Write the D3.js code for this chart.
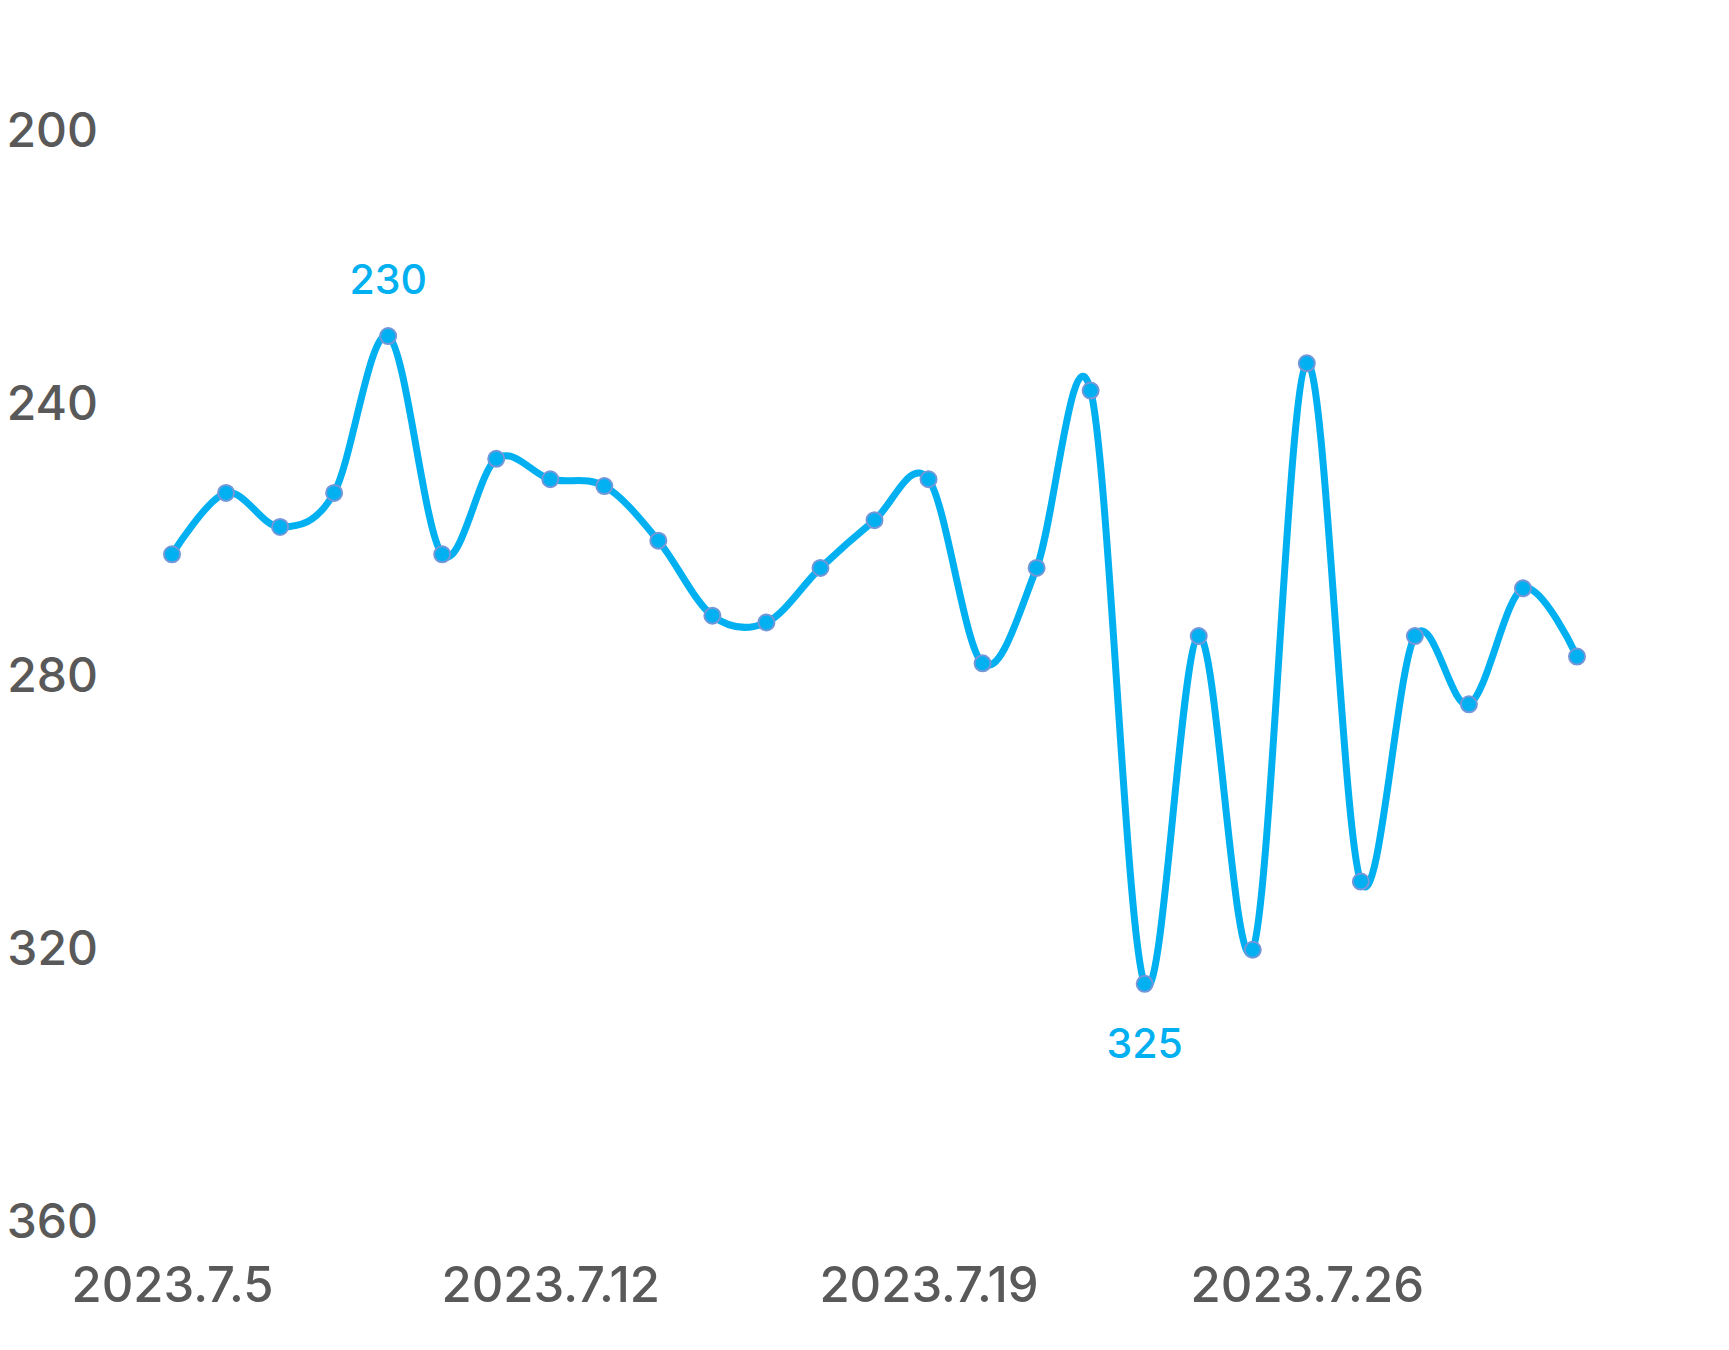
<!DOCTYPE html>
<meta charset="utf-8" />
<html>
<head>
<script src="https://d3js.org/d3.v7.min.js"></script>
<style>
  body { margin: 0; background: #fff; }
  text { font-family: Inter, "Noto Sans", sans-serif; font-weight: 500; }
</style>
</head>
<body>
<script type="text/javascript">
// data
var days = ['2023-07-05','2023-07-06','2023-07-07','2023-07-08','2023-07-09','2023-07-10','2023-07-11',
            '2023-07-12','2023-07-13','2023-07-14','2023-07-15','2023-07-16','2023-07-17','2023-07-18',
            '2023-07-19','2023-07-20','2023-07-21','2023-07-22','2023-07-23','2023-07-24','2023-07-25',
            '2023-07-26','2023-07-27','2023-07-28','2023-07-29','2023-07-30','2023-07-31'];
var values = [262, 253, 258, 253, 230, 262, 248,
              251, 252, 260, 271, 272, 264, 257,
              251, 278, 264, 238, 325, 274, 320,
              234, 310, 274, 284, 267, 277];
var yTicks = [200, 240, 280, 320, 360];
var xTicks = ['2023-07-05', '2023-07-12', '2023-07-19', '2023-07-26'];
var labelled = ['2023-07-09', '2023-07-23'];  // max and min get a label

var width = 1729;
var height = 1350;
var lineColor = '#00b0f0';
var textColor = '#595959';

var parser = d3.timeParse('%Y-%m-%d');
var data = days.map(function(d, i) { return {date: parser(d), value: values[i], key: d}; });

var svg = d3.select('body').append('svg')
    .attr('width', width)
    .attr('height', height);

var x = d3.scaleTime()
    .domain(d3.extent(data, function(d) { return d.date; }))
    .range([172, 1577]);
// axis runs downwards: small values on top
var y = d3.scaleLinear()
    .domain([200, 360])
    .range([131.5, 1222.5]);

// y axis, labels only
var yAxis = svg.append('g')
    .attr('transform', 'translate(98,0)')
    .call(d3.axisLeft(y).tickValues(yTicks).tickSize(0).tickPadding(0));
yAxis.select('.domain').remove();
yAxis.selectAll('text')
    .attr('dy', '0.31em')
    .style('font-size', '48px')
    .style('fill', textColor);

// x axis, labels only
var xAxis = svg.append('g')
    .attr('transform', 'translate(0,1266)')
    .call(d3.axisBottom(x)
      .tickValues(xTicks.map(parser))
      .tickFormat(d3.timeFormat('%Y.%-m.%-d'))
      .tickSize(0).tickPadding(0));
xAxis.select('.domain').remove();
xAxis.selectAll('text')
    .attr('dy', '0.73em')
    .style('font-size', '49px')
    .style('fill', textColor);

var line = d3.line()
    .x(function(d) { return x(d.date); })
    .y(function(d) { return y(d.value); })
    .curve(d3.curveCatmullRom.alpha(0));

svg.append('path')
    .attr('d', line(data))
    .attr('fill', 'none')
    .attr('stroke', lineColor)
    .attr('stroke-width', 7)
    .attr('stroke-linejoin', 'round')
    .attr('stroke-linecap', 'round');

svg.append('g')
    .selectAll('circle')
    .data(data)
    .enter()
    .append('circle')
    .attr('cx', function(d) { return x(d.date); })
    .attr('cy', function(d) { return y(d.value); })
    .attr('r', 8)
    .attr('fill', lineColor)
    .attr('stroke', '#7397d8')
    .attr('stroke-width', 2);

// value labels: above for the top one, below for the bottom one
var maxV = d3.min(values);
svg.append('g')
    .selectAll('text')
    .data(data.filter(function(d) { return labelled.includes(d.key); }))
    .enter()
    .append('text')
    .attr('x', function(d) { return x(d.date); })
    .attr('y', function(d) { return d.value === maxV ? y(d.value) - 42 : y(d.value) + 74; })
    .attr('text-anchor', 'middle')
    .style('font-size', '41px')
    .style('fill', lineColor)
    .text(function(d) { return d.value; });
</script>
</body>
</html>
